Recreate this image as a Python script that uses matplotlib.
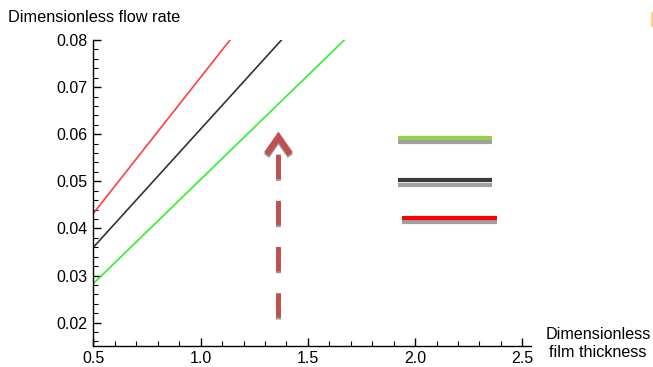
import matplotlib
matplotlib.use("Agg")
import matplotlib.pyplot as plt
from matplotlib.ticker import MultipleLocator
import matplotlib.patheffects as pe

plt.rcParams['font.family'] = ['Liberation Sans', 'DejaVu Sans']

# Lines: (x_start, x_end), (y_start, y_end)
red_x = [0.5, 1.137]
red_y = [0.0432, 0.080]
black_x = [0.5, 1.377]
black_y = [0.0360, 0.080]
green_x = [0.5, 1.67]
green_y = [0.0283, 0.080]

# Arrow
arrow_x = 1.363
arrow_y = [0.0213, 0.0594]

# Legend-like horizontal bars
bar_levels = [0.0592, 0.0502, 0.0423]
bar_x = [[1.92, 2.36], [1.92, 2.36], [1.94, 2.38]]
bar_colors = ['#92d050', '#3a3a3a', '#ff0000']

xticks = [0.5, 1.0, 1.5, 2.0, 2.5]
xticklabels = ['0.5', '1.0', '1.5', '2.0', '2.5']
yticks = [0.02, 0.03, 0.04, 0.05, 0.06, 0.07, 0.08]
yticklabels = ['0.02', '0.03', '0.04', '0.05', '0.06', '0.07', '0.08']

fig = plt.figure(figsize=(6.53, 3.67), dpi=100)
ax = fig.add_axes([0.143, 0.058, 0.67, 0.833])
ax.set_xlim(0.5, 2.54)
ax.set_ylim(0.0151, 0.080)

ax.plot(red_x, red_y, color='#ff4040', lw=1.2)
ax.plot(black_x, black_y, color='#333333', lw=1.2)
ax.plot(green_x, green_y, color='#33ee33', lw=1.2)

shadow = [pe.SimpleLineShadow(offset=(0, -1.5), shadow_color='#999999', alpha=1.0), pe.Normal()]
arrow_col = '#c0504d'
ax.plot([arrow_x, arrow_x], [arrow_y[0], arrow_y[1] - 0.0022], color=arrow_col, lw=3.5,
        dashes=(5, 4.5), solid_capstyle='butt', dash_capstyle='butt', path_effects=shadow)
dx = 0.055
dy = 0.0036
ax.plot([arrow_x - dx, arrow_x, arrow_x + dx], [arrow_y[1] - dy, arrow_y[1], arrow_y[1] - dy],
        color=arrow_col, lw=4.5, solid_joinstyle='miter', solid_capstyle='butt', path_effects=shadow)

for lvl, xs, c in zip(bar_levels, bar_x, bar_colors):
    ax.plot(xs, [lvl - 0.0009, lvl - 0.0009], color='#a0a0a0', lw=3, solid_capstyle='butt')
    ax.plot(xs, [lvl, lvl], color=c, lw=3, solid_capstyle='butt')

ax.spines['top'].set_visible(False)
ax.spines['right'].set_visible(False)
ax.spines['left'].set_bounds(0.0151, 0.080)
for s in ['left', 'bottom']:
    ax.spines[s].set_linewidth(1.0)
    ax.spines[s].set_color('black')

ax.set_xticks(xticks)
ax.set_xticklabels(xticklabels)
ax.set_yticks(yticks)
ax.set_yticklabels(yticklabels)
ax.xaxis.set_minor_locator(MultipleLocator(0.1))
ax.yaxis.set_minor_locator(MultipleLocator(0.002))
ax.tick_params(which='major', direction='in', length=6, width=1, labelsize=11.5, pad=4)
ax.tick_params(which='minor', direction='in', length=3.5, width=0.8)

fig.text(0.012, 0.932, 'Dimensionless flow rate', fontsize=11.7, ha='left', va='bottom')
fig.text(0.916, 0.018, 'Dimensionless\nfilm thickness', fontsize=11.6, ha='center', va='bottom',
         linespacing=1.25)

# small yellow mark at top right
fig.add_artist(plt.Line2D([0.998, 0.998], [0.93, 0.965], color='#ffd27f', lw=1.5,
                          transform=fig.transFigure))

fig.savefig('out.png', dpi=100)
